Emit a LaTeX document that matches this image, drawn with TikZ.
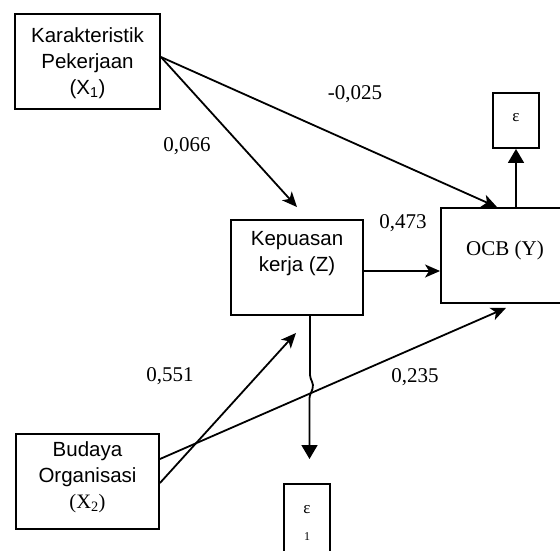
\documentclass[tikz,border=0pt]{standalone}
\usepackage{fontspec}
\setmainfont{Liberation Serif}
\newfontfamily\sansf{Liberation Sans}
\usetikzlibrary{arrows.meta}
\begin{document}
\begin{tikzpicture}[x=1pt,y=-1pt,
  box/.style={draw,line width=1.9pt,rectangle,inner sep=0pt},
  btext/.style={font=\sansf\fontsize{20.5}{26}\selectfont,align=center,inner sep=0pt},
  num/.style={font=\fontsize{21}{24}\selectfont,inner sep=0pt},
  conn/.style={line width=1.8pt,-{Stealth[length=15pt,width=13pt,inset=4pt]}},
  tri/.style={line width=1.8pt,-{Triangle[length=14pt,width=16pt]}}]
\useasboundingbox (0,0) rectangle (560,550);
% boxes
\node[box,minimum width=145pt,minimum height=95pt] (x1) at (87.5,61.5) {};
\node[btext] (x1t) at (87.5,63) {Karakteristik\\Pekerjaan\\(X\textsubscript{1})};
\node[box,minimum width=132pt,minimum height=95pt] (z) at (297,267.5) {};
\node[btext] (zt) at (297,254) {Kepuasan\\kerja (Z)};
\node[box,minimum width=130pt,minimum height=95pt] (ocb) at (506,255.5) {};
\node[num] (ocbt) at (505,250) {OCB (Y)};
\node[box,minimum width=143pt,minimum height=95pt] (x2) at (87.5,481.5) {};
\node[btext] (x2t) at (87.5,477) {Budaya\\Organisasi\\{\rmfamily(X\textsubscript{2})}};
\node[box,minimum width=46pt,minimum height=55pt] (eps) at (516,120.5) {};
\node[inner sep=0pt,font=\fontsize{17}{17}\selectfont] (epst) at (516,118) {ε};
\node[box,minimum width=46pt,minimum height=86pt] (eps1) at (307,527) {};
\node[inner sep=0pt,font=\fontsize{17}{17}\selectfont] (eps1a) at (307,510) {ε};
\node[inner sep=0pt,font=\fontsize{12}{12}\selectfont] (eps1b) at (307,537) {1};
% connectors
\coordinate (x1a) at ([yshift=4.5pt]x1.east);
\coordinate (x2a) at ([yshift=22.5pt]x2.east);
\coordinate (x2b) at ([yshift=-1.5pt]x2.east);
\draw[conn] (x1a) -- ([xshift=-9pt]ocb.north);
\draw[conn] (x1a) -- ([yshift=12pt]z.north);
\draw[conn] ([yshift=-3.5pt]z.east) -- ([yshift=-3.5pt]z.east -| ocb.west);
\draw[conn] (x2b) -- ([yshift=-17pt,xshift=-1pt]z.south);
\draw[conn] (x2a) -- ([yshift=-4pt]ocb.south);
\draw[tri] (eps.south |- ocb.north) -- (eps.south);
\coordinate (zd) at ([xshift=13pt]z.south);
\draw[tri] (zd) -- (310,375) .. controls (310,380) and (314.5,383) .. (312.5,389) .. controls (310,395) and (309,397) .. (309.5,402) -- (309.5,459);
% labels
\node[num] (l1) at (355,94) {-0,025};
\node[num] (l2) at (187,146) {0,066};
\node[num] (l3) at (403,223) {0,473};
\node[num] (l4) at (170,376) {0,551};
\node[num] (l5) at (415,377) {0,235};
\end{tikzpicture}
\end{document}
